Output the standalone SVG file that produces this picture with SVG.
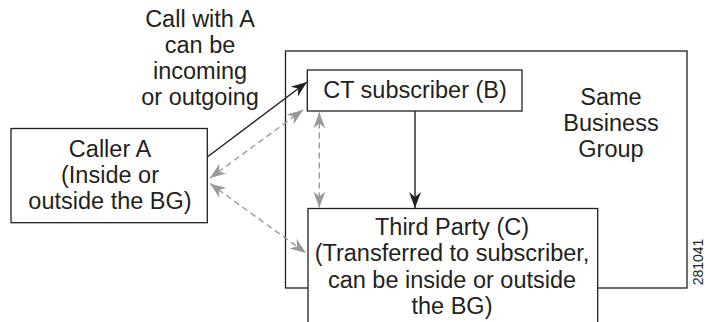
<svg xmlns="http://www.w3.org/2000/svg" width="705" height="322" viewBox="0 0 705 322">
<style>
.box{fill:#fff;stroke:#231f20;stroke-width:1.3}
.frame{fill:none;stroke:#231f20;stroke-width:1.3}
text{font-family:"Liberation Sans",Arial,Helvetica,sans-serif;font-size:23.5px;fill:#231f20;text-anchor:middle}
.solid{stroke:#231f20;stroke-width:1.4;fill:none}
.dash{stroke:#999;stroke-width:1.4;fill:none;stroke-dasharray:6 4}
.id{font-size:14px}
</style>
<defs>
<marker id="ab" markerUnits="userSpaceOnUse" markerWidth="17" markerHeight="13" refX="16" refY="6.5" orient="auto-start-reverse" viewBox="0 0 17 13">
<path d="M0,0.5 L16,6.5 L0,12.5 L5,6.5 Z" fill="#231f20"/>
</marker>
<marker id="ag" markerUnits="userSpaceOnUse" markerWidth="17" markerHeight="13" refX="16" refY="6.5" orient="auto-start-reverse" viewBox="0 0 17 13">
<path d="M0,0.5 L16,6.5 L0,12.5 L5,6.5 Z" fill="#999"/>
</marker>
</defs>
<g id="business-group">
<rect class="frame" x="285.5" y="51" width="401.5" height="237"/>
<text x="611" y="105">Same</text>
<text x="611" y="131">Business</text>
<text x="611" y="157">Group</text>
</g>
<g id="call-label">
<text x="200" y="27">Call with A</text>
<text x="200" y="53">can be</text>
<text x="200" y="79">incoming</text>
<text x="200" y="105">or outgoing</text>
</g>
<g id="caller-a">
<rect class="box" x="11" y="128.5" width="196.3" height="94.2"/>
<text x="110" y="157">Caller A</text>
<text x="110" y="183">(Inside or</text>
<text x="110" y="209">outside the BG)</text>
</g>
<g id="ct-subscriber">
<rect class="box" x="307.3" y="70" width="214.7" height="41"/>
<text x="415" y="98">CT subscriber (B)</text>
</g>
<g id="third-party">
<rect class="box" x="308" y="208.5" width="289.7" height="125"/>
<text x="452" y="235">Third Party (C)</text>
<text x="452" y="261">(Transferred to subscriber,</text>
<text x="452" y="288">can be inside or outside</text>
<text x="452" y="314">the BG)</text>
</g>
<g id="connectors">
<line class="solid" x1="207.3" y1="157" x2="307" y2="82" marker-end="url(#ab)"/>
<line class="dash" x1="210" y1="178" x2="303" y2="110" marker-start="url(#ag)" marker-end="url(#ag)"/>
<line class="dash" x1="210" y1="183.5" x2="306" y2="253" marker-start="url(#ag)" marker-end="url(#ag)"/>
<line class="dash" x1="319.3" y1="112.5" x2="319.3" y2="207.5" marker-start="url(#ag)" marker-end="url(#ag)"/>
<line class="solid" x1="415" y1="111" x2="415" y2="208" marker-end="url(#ab)"/>
</g>
<text class="id" transform="translate(703,262) rotate(-90)">281041</text>
</svg>
